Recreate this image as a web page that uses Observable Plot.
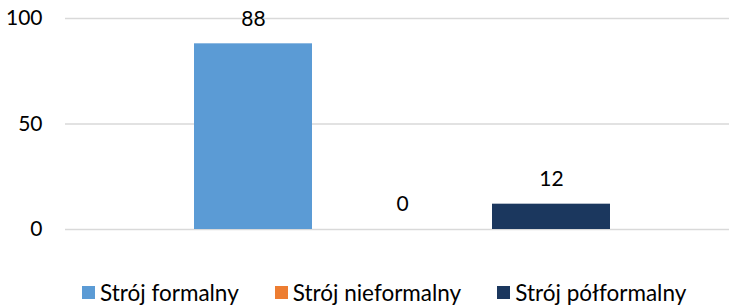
<!DOCTYPE html>
<html>
<head>
<meta charset="utf-8">
<script src="https://cdn.jsdelivr.net/npm/d3@7"></script>
<script src="https://cdn.jsdelivr.net/npm/@observablehq/plot@0.6"></script>
<style>
  body { margin: 0; background: #fff; font-family: Lato, "Open Sans", sans-serif; }
  #legend { display: flex; align-items: center; height: 29px; margin-top: 8px; padding-left: 82px; font-size: 22.5px; color: #000; }
  .item { display: flex; align-items: center; margin-right: 36px; }
  .sw { width: 13px; height: 13px; margin-right: 5px; }
</style>
</head>
<body>
<div id="chart"></div>
<div id="legend"></div>
<script>
const categories = ["Strój formalny", "Strój nieformalny", "Strój półformalny"];
const values = [88, 0, 12];
const colors = ["#5B9BD5", "#ED7D31", "#1B375E"];
const yTicks = [0, 50, 100];

const data = categories.map((c, i) => ({category: c, value: values[i]}));

const plot = Plot.plot({
  width: 729,
  height: 270,
  marginLeft: 65,
  marginRight: 0,
  marginTop: 18,
  marginBottom: 41,
  style: {fontFamily: "Lato, 'Open Sans', sans-serif", fontSize: "21px", color: "#000", background: "#fff"},
  x: {domain: categories, paddingInner: 0.208, paddingOuter: 0.832, align: 0.52, axis: null},
  y: {domain: [0, 100], axis: null},
  color: {domain: categories, range: colors},
  marks: [
    Plot.ruleY(yTicks, {stroke: "#d9d9d9", strokeWidth: 1.5}),
    Plot.barY(data, {x: "category", y: "value", fill: "category"}),
    Plot.axisY({ticks: yTicks, tickSize: 0, tickPadding: 23, fontSize: 21, fill: "#000", label: null}),
    Plot.text(data, {x: "category", y: "value", text: d => String(d.value), dy: -25, lineAnchor: "middle", fill: "#000", fontSize: 21})
  ]
});
document.getElementById("chart").appendChild(plot);

const legend = document.getElementById("legend");
categories.forEach((c, i) => {
  const item = document.createElement("div");
  item.className = "item";
  const sw = document.createElement("span");
  sw.className = "sw";
  sw.style.background = colors[i];
  const t = document.createElement("span");
  t.textContent = c;
  item.appendChild(sw);
  item.appendChild(t);
  legend.appendChild(item);
});
</script>
</body>
</html>
